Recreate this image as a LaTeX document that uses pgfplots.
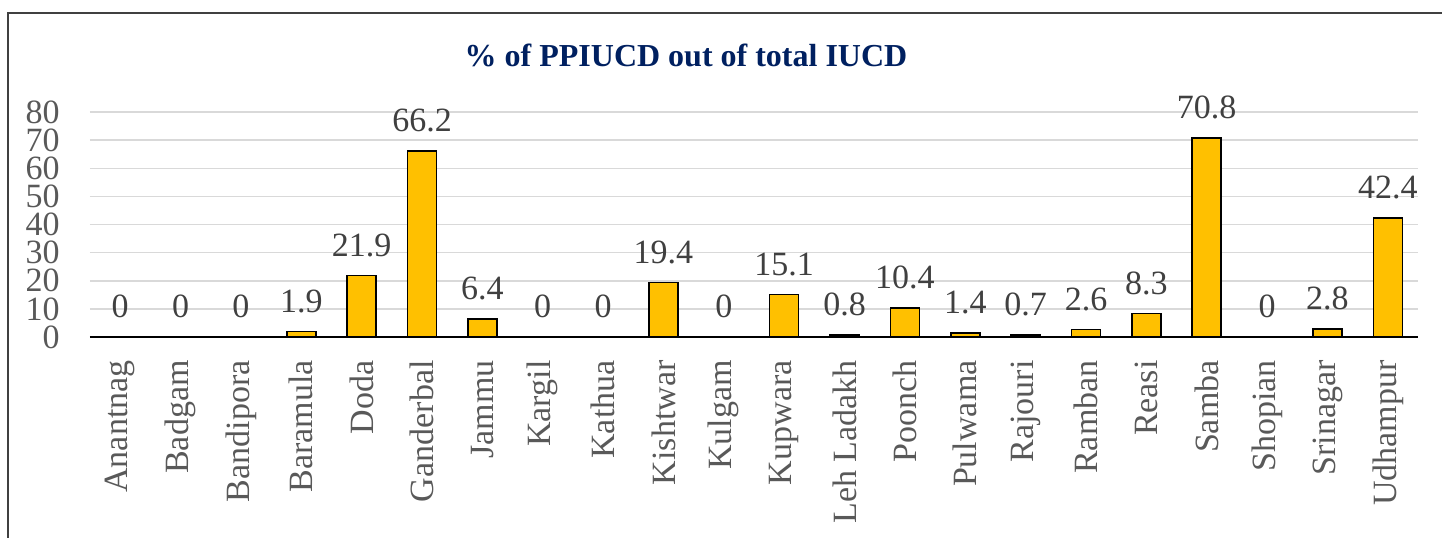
\documentclass[border=0pt]{standalone}
\usepackage{fontspec}
\setmainfont{Liberation Serif}
\usepackage{pgfplots}
\pgfplotsset{compat=1.18}
\definecolor{bargold}{HTML}{FFC000}
\definecolor{titleblue}{HTML}{002060}
\definecolor{ticktext}{HTML}{595959}
\definecolor{labeltext}{HTML}{404040}
\definecolor{gridgray}{HTML}{D9D9D9}
\begin{document}
\begin{tikzpicture}
\useasboundingbox (0pt,0pt) rectangle (721pt,268.5pt);
\draw[labeltext, line width=1pt] (4pt,-2pt) -- (4pt,262pt) -- (725pt,262pt);
\node[anchor=base, font=\fontsize{16}{19}\selectfont\bfseries, text=titleblue, inner sep=0pt] at (343pt,235pt) {\% of PPIUCD out of total IUCD};
\begin{axis}[
  at={(45pt,100pt)}, anchor=south west,
  scale only axis, width=664pt, height=112.5pt,
  ybar, bar width=14.5pt,
  xmin=-0.5, xmax=21.5, ymin=0, ymax=80,
  ytick={0,10,...,80},
  xtick=data,
  xticklabels={Anantnag,Badgam,Bandipora,Baramula,Doda,Ganderbal,Jammu,Kargil,Kathua,Kishtwar,Kulgam,Kupwara,Leh Ladakh,Poonch,Pulwama,Rajouri,Ramban,Reasi,Samba,Shopian,Srinagar,Udhampur},
  axis line style={draw=none},
  major tick length=0pt,
  ymajorgrids, grid style={gridgray, line width=0.75pt},
  tick label style={font=\fontsize{17}{20}\selectfont, text=ticktext},
  yticklabel style={inner sep=0pt, anchor=east},
  yticklabel shift=15pt,
  xticklabel style={rotate=90, anchor=east, inner sep=0pt},
  xticklabel shift=11.5pt,
  /pgf/number format/.cd, fixed, precision=1, assume math mode=true,
  /pgfplots/.cd,
  nodes near coords,
  every node near coord/.append style={font=\fontsize{17}{20}\selectfont, text=labeltext, anchor=south, inner sep=0pt, yshift=9pt},
  clip=false,
]
\addplot[fill=bargold, draw=black, line width=0.75pt] coordinates {
(0,0) (1,0) (2,0) (3,1.9) (4,21.9) (5,66.2) (6,6.4) (7,0) (8,0) (9,19.4) (10,0)
(11,15.1) (12,0.8) (13,10.4) (14,1.4) (15,0.7) (16,2.6) (17,8.3) (18,70.8) (19,0) (20,2.8) (21,42.4)
};
\draw[black, line width=1pt] (axis cs:-0.5,0) -- (axis cs:21.5,0);
\end{axis}
\end{tikzpicture}
\end{document}
